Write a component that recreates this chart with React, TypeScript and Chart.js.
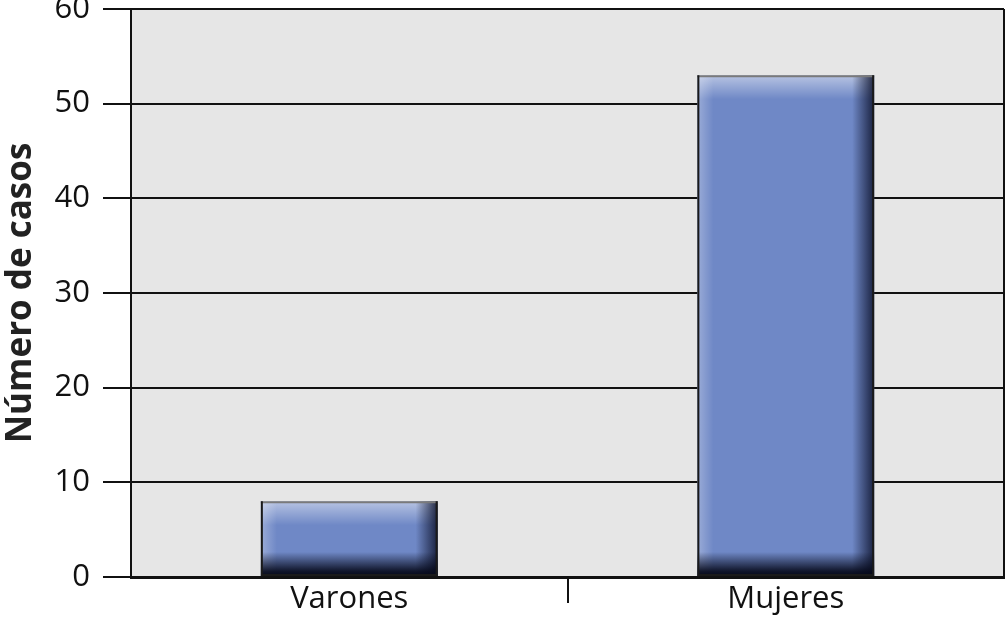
import React, { useEffect, useRef } from "react";
import { Chart, registerables } from "chart.js";

Chart.register(...registerables);

const categories = ["Varones", "Mujeres"];
const casos = [8, 53];
const yTitle = "Número de casos";

const FONT = "'Open Sans', 'DejaVu Sans', sans-serif";

const bgPlugin = {
  id: "plotBg",
  beforeDraw(chart: any) {
    const { ctx, chartArea: a } = chart;
    ctx.save();
    ctx.fillStyle = "#e6e6e6";
    ctx.fillRect(a.left, a.top, a.right - a.left, a.bottom - a.top);
    ctx.restore();
  },
  afterDraw(chart: any) {
    const { ctx, chartArea: a } = chart;
    ctx.save();
    ctx.strokeStyle = "#111";
    ctx.lineWidth = 2;
    ctx.beginPath();
    ctx.moveTo(a.right, a.top);
    ctx.lineTo(a.right, a.bottom);
    ctx.stroke();
    ctx.restore();
  },
};

const bevelPlugin = {
  id: "bevel",
  afterDatasetsDraw(chart: any) {
    const { ctx } = chart;
    const meta = chart.getDatasetMeta(0);
    ctx.save();
    meta.data.forEach((bar: any) => {
      const p = bar.getProps(["x", "y", "base", "width"], true);
      const l = p.x - p.width / 2;
      const r = p.x + p.width / 2;
      const t = Math.min(p.y, p.base);
      const b = Math.max(p.y, p.base);
      const w = r - l;
      const h = b - t;
      // top highlight
      let g = ctx.createLinearGradient(0, t, 0, t + 24);
      g.addColorStop(0, "rgba(255,255,255,0.5)");
      g.addColorStop(1, "rgba(255,255,255,0)");
      ctx.fillStyle = g;
      ctx.fillRect(l, t, w, Math.min(24, h));
      // left highlight
      g = ctx.createLinearGradient(l, 0, l + 16, 0);
      g.addColorStop(0, "rgba(255,255,255,0.3)");
      g.addColorStop(1, "rgba(255,255,255,0)");
      ctx.fillStyle = g;
      ctx.fillRect(l, t, 16, h);
      // right shadow
      g = ctx.createLinearGradient(r, 0, r - 22, 0);
      g.addColorStop(0, "rgba(10,15,40,0.85)");
      g.addColorStop(1, "rgba(10,15,40,0)");
      ctx.fillStyle = g;
      ctx.fillRect(r - 22, t, 22, h);
      // bottom shadow
      g = ctx.createLinearGradient(0, b, 0, b - 24);
      g.addColorStop(0, "rgba(5,8,25,1)");
      g.addColorStop(0.2, "rgba(5,8,25,0.9)");
      g.addColorStop(1, "rgba(5,8,25,0)");
      ctx.fillStyle = g;
      ctx.fillRect(l, b - 24, w, 24);
      // borders
      ctx.lineWidth = 2;
      ctx.strokeStyle = "#7a7a7a";
      ctx.beginPath();
      ctx.moveTo(l, t + 1);
      ctx.lineTo(r, t + 1);
      ctx.stroke();
      ctx.strokeStyle = "#1a1a1a";
      ctx.beginPath();
      ctx.moveTo(l + 1, t);
      ctx.lineTo(l + 1, b);
      ctx.moveTo(r - 1, t);
      ctx.lineTo(r - 1, b);
      ctx.moveTo(l, b - 1);
      ctx.lineTo(r, b - 1);
      ctx.stroke();
    });
    ctx.restore();
  },
};

export default function App() {
  const ref = useRef<HTMLCanvasElement | null>(null);
  useEffect(() => {
    if (!ref.current) return;
    const chart = new Chart(ref.current, {
      type: "bar",
      data: {
        labels: categories,
        datasets: [
          {
            data: casos,
            backgroundColor: "#6f88c6",
            borderWidth: 0,
            barPercentage: 0.81,
            categoryPercentage: 0.5,
          },
        ],
      },
      plugins: [bgPlugin, bevelPlugin],
      options: {
        animation: false,
        responsive: false,
        maintainAspectRatio: false,
        layout: { padding: { top: 9, right: 2, left: 0, bottom: 0 } },
        plugins: { legend: { display: false }, tooltip: { enabled: false } },
        scales: {
          x: {
            offset: true,
            grid: {
              offset: true,
              drawOnChartArea: false,
              drawTicks: true,
              tickLength: 26,
              lineWidth: 2,
              color: (c: any) => (c.index === 1 ? "#111" : "rgba(0,0,0,0)"),
            },
            border: { display: true, color: "#111", width: 3 },
            ticks: {
              color: "#111",
              padding: -22,
              font: { family: FONT, size: 31 },
            },
            afterFit(scale: any) {
              scale.height = 41;
            },
          },
          y: {
            min: 0,
            max: 60,
            ticks: {
              stepSize: 10,
              color: "#111",
              padding: 13,
              font: { family: FONT, size: 31 },
            },
            grid: {
              color: "#111",
              lineWidth: 2,
              tickLength: 28,
            },
            border: { display: true, color: "#111", width: 2 },
            title: {
              display: true,
              text: yTitle,
              color: "#222",
              font: { family: FONT, size: 35, weight: "bold" },
              padding: { top: 0, bottom: 0 },
            },
            afterFit(scale: any) {
              scale.width = 131;
              scale.paddingTop = 0;
              scale.paddingBottom = 0;
            },
          },
        },
      },
    } as any);
    return () => chart.destroy();
  }, []);
  return (
    <div style={{ position: "fixed", left: 0, top: 0, width: 1006, height: 618, background: "#fff" }}>
      <canvas ref={ref} width={1006} height={618} style={{ display: "block" }} />
    </div>
  );
}
